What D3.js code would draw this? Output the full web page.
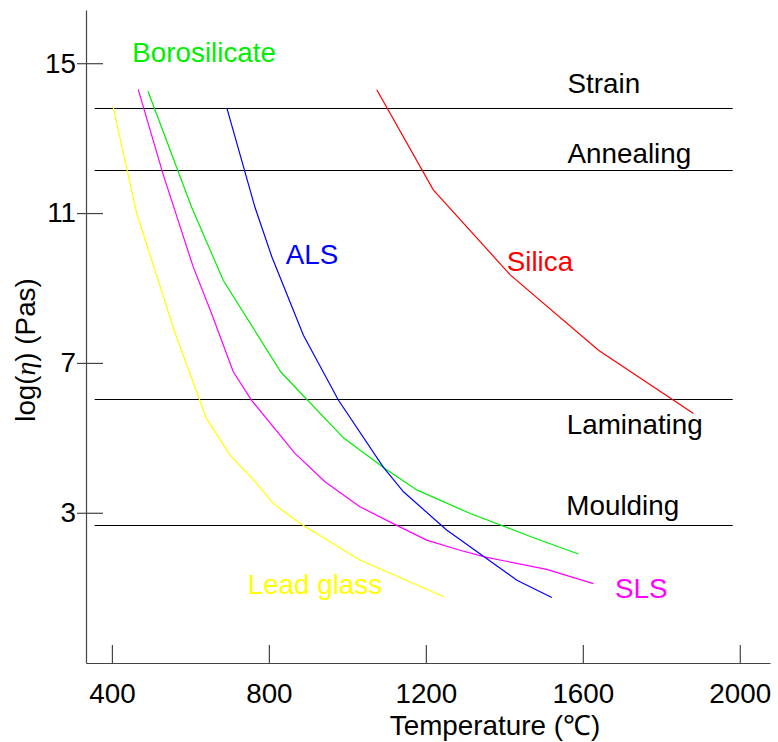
<!DOCTYPE html>
<html>
<head>
<meta charset="utf-8">
<script src="https://cdn.jsdelivr.net/npm/d3@7"></script>
<style>
  body { margin: 0; background: #fff; }
  svg { display: block; font-family: "Liberation Sans", Arial, sans-serif; }
</style>
</head>
<body>
<svg id="chart" width="778" height="742"></svg>
<script>
// viscosity curves, [temperature (C), log(eta)]
const leadGlass = [[403, 13.85], [463, 11.0], [561, 7.8], [641, 5.52], [701, 4.54], [765, 3.83], [811, 3.25], [879, 2.72], [1032, 1.74], [1246, 0.76]];
const sls = [[467, 14.3], [531, 12.02], [607, 9.57], [654, 8.32], [709, 6.77], [756, 6.0], [866, 4.59], [943, 3.83], [1032, 3.16], [1113, 2.73], [1202, 2.27], [1287, 2.0], [1355, 1.81], [1508, 1.49], [1627, 1.11]];
const borosilicate = [[492, 14.25], [603, 11.16], [684, 9.2], [831, 6.75], [990, 5.0], [1092, 4.21], [1177, 3.61], [1313, 2.98], [1483, 2.3], [1589, 1.9]];
const als = [[693, 13.8], [765, 11.14], [808, 9.82], [888, 7.74], [977, 6.01], [1092, 4.21], [1143, 3.56], [1253, 2.54], [1432, 1.2], [1521, 0.74]];
const silica = [[1075, 14.29], [1219, 11.62], [1415, 9.35], [1640, 7.34], [1882, 5.65]];

const seriesNames = ["Lead glass", "SLS", "Borosilicate", "ALS", "Silica"];
const seriesData = [leadGlass, sls, borosilicate, als, silica];
const seriesColors = ["#ffff00", "#ff00ff", "#00ee00", "#0000ff", "#ff0000"];
// label anchor in data units (temperature, log eta)
const seriesLabelAt = [[746, 0.83], [1682, 0.72], [452, 15.03], [843, 9.64], [1406, 9.45]];

// reference viscosity levels
const levelNames = ["Strain", "Annealing", "Laminating", "Moulding"];
const levelValues = [13.8, 12.15, 6.03, 2.68];
const levelRange = [356, 1982];
const levelLabelAt = [[1561, 14.2], [1561, 12.33], [1559, 5.1], [1558, 2.94]];

const xTicks = [400, 800, 1200, 1600, 2000];
const yTicks = [3, 7, 11, 15];

const svg = d3.select("#chart");
const fontSize = 27.8;

const x = d3.scaleLinear().domain([334, 2077]).range([86, 770]);
const y = d3.scaleLinear().domain([-1.01, 16.42]).range([663, 10]);

// axes
const xAxis = svg.append("g")
  .attr("transform", `translate(0,${y(-1.01)})`)
  .call(d3.axisBottom(x).tickValues(xTicks).tickFormat(d3.format("d"))
    .tickSizeInner(-18).tickSizeOuter(0).tickPadding(20));

const yAxis = svg.append("g")
  .attr("transform", `translate(${x(334)},0)`)
  .call(d3.axisLeft(y).tickValues(yTicks).tickSizeInner(0).tickSizeOuter(0).tickPadding(10));
yAxis.selectAll(".tick line").attr("x1", -9).attr("x2", 17);

[xAxis, yAxis].forEach(a => {
  a.selectAll("path.domain, .tick line").attr("stroke", "#444").attr("stroke-width", 1.2);
  a.selectAll("text")
    .attr("font-size", fontSize)
    .attr("font-family", "Liberation Sans, Arial, sans-serif")
    .attr("fill", "#000");
});

// horizontal reference lines
const lvl = svg.append("g");
lvl.selectAll("line")
  .data(levelValues)
  .enter().append("line")
  .attr("x1", x(levelRange[0]))
  .attr("x2", x(levelRange[1]))
  .attr("y1", d => Math.round(y(d)) + 0.5)
  .attr("y2", d => Math.round(y(d)) + 0.5)
  .attr("stroke", "#000")
  .attr("stroke-width", 1);

lvl.selectAll("text")
  .data(levelNames)
  .enter().append("text")
  .attr("x", (d, i) => x(levelLabelAt[i][0]))
  .attr("y", (d, i) => y(levelLabelAt[i][1]))
  .attr("font-size", fontSize)
  .attr("fill", "#000")
  .text(d => d);

// curves
const line = d3.line().x(d => x(d[0])).y(d => y(d[1]));

svg.append("g").selectAll("path")
  .data(seriesData)
  .enter().append("path")
  .attr("d", line)
  .attr("fill", "none")
  .attr("stroke", (d, i) => seriesColors[i])
  .attr("stroke-width", 1.2);

svg.append("g").selectAll("text")
  .data(seriesNames)
  .enter().append("text")
  .attr("x", (d, i) => x(seriesLabelAt[i][0]))
  .attr("y", (d, i) => y(seriesLabelAt[i][1]))
  .attr("font-size", fontSize)
  .attr("fill", (d, i) => seriesColors[i])
  .text(d => d);

// axis titles
svg.append("text")
  .attr("x", 495)
  .attr("y", 735)
  .attr("text-anchor", "middle")
  .attr("font-size", fontSize)
  .text("Temperature (\u2103)");

const yl = svg.append("text")
  .attr("transform", "translate(35,350) rotate(-90)")
  .attr("text-anchor", "middle")
  .attr("font-size", fontSize);
yl.append("tspan").text("log(");
yl.append("tspan").attr("font-family", "Liberation Serif, serif").attr("font-style", "italic").text("\u03b7");
yl.append("tspan").text(") (Pas)");
</script>
</body>
</html>
